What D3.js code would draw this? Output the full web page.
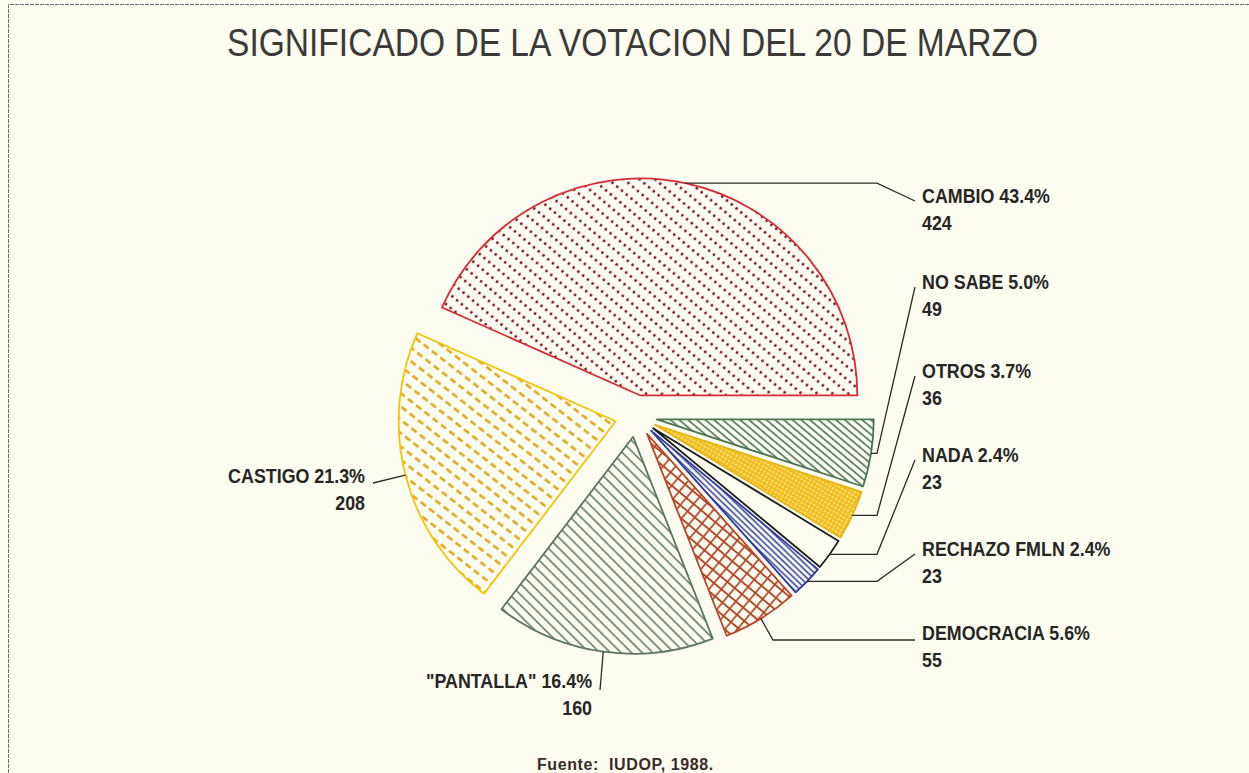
<!DOCTYPE html>
<html><head><meta charset="utf-8">
<script src="https://cdn.jsdelivr.net/npm/d3@7"></script>
<style>
html,body{margin:0;padding:0;background:#fdfcf0;}
svg{display:block;}
</style></head>
<body><svg id="chart" width="1249" height="773"></svg>
<script>
// ---------- data ----------
const categories = ["CAMBIO", "CASTIGO", "\"PANTALLA\"", "DEMOCRACIA", "RECHAZO FMLN", "NADA", "OTROS", "NO SABE"];
const counts = [424, 208, 160, 55, 23, 23, 36, 49];
const percentLabels = ["43.4%", "21.3%", "16.4%", "5.6%", "2.4%", "2.4%", "3.7%", "5.0%"];
const titleText = "SIGNIFICADO DE LA VOTACION DEL 20 DE MARZO";
const sourceText = "Fuente:  IUDOP, 1988.";

// ---------- layout / style (not data) ----------
const W = 1249, H = 773;
const cx = 636, cy = 416, R = 217, explode = 21;
const sliceStyles = [
  {fill: "url(#pDots)",   stroke: "#d82a32"},
  {fill: "url(#pDash)",   stroke: "#f2c40c"},
  {fill: "url(#pGray)",   stroke: "#5b7660"},
  {fill: "url(#pCross)",  stroke: "#b5472b"},
  {fill: "url(#pBlue)",   stroke: "#2c3a98"},
  {fill: "#fdfcf0",       stroke: "#1e1e1e"},
  {fill: "url(#pYellow)", stroke: "#e6b410"},
  {fill: "url(#pGreen)",  stroke: "#4a7452"}
];
const labelLayout = [
  {x: 922, y: 203, anchor: "start", leader: "elbow"},
  {x: 365, y: 483, anchor: "end",   leader: [[373, 483]]},
  {x: 592, y: 688, anchor: "end",   leader: [[600, 690]]},
  {x: 922, y: 640, anchor: "start", leader: [[773, 640], [915, 640]]},
  {x: 922, y: 556, anchor: "start", leader: "elbow"},
  {x: 922, y: 462, anchor: "start", leader: "elbow"},
  {x: 922, y: 378, anchor: "start", leader: "elbow"},
  {x: 922, y: 289, anchor: "start", leader: "elbow"}
];
const elbowX = 877, leaderEndX = 915;
const labelFactor = 0.85;

const svg = d3.select("#chart");
svg.append("rect").attr("width", W).attr("height", H).attr("fill", "#fdfcf0");

// frame
svg.append("path").attr("d", `M8.5,${H} L8.5,4.5 L${W},4.5`)
  .attr("fill", "none").attr("stroke", "#707070").attr("stroke-width", 1)
  .attr("stroke-dasharray", "4,1");

// ---------- patterns ----------
const defs = svg.append("defs");
function pat(id, w, h, rot) {
  return defs.append("pattern").attr("id", id).attr("patternUnits", "userSpaceOnUse")
    .attr("width", w).attr("height", h).attr("patternTransform", `rotate(${rot})`);
}
let p;
p = pat("pDots", 6.2, 10, 40);
p.append("circle").attr("cx", 3.1).attr("cy", 5).attr("r", 1.4).attr("fill", "#7d1628");
p = pat("pDash", 10.5, 10.5, 38);
p.append("line").attr("x1", 1).attr("x2", 7.5).attr("y1", 5.25).attr("y2", 5.25)
  .attr("stroke", "#e3a41a").attr("stroke-width", 2.5);
p = pat("pGray", 10, 7.5, 45);
p.append("line").attr("x1", 0).attr("x2", 10).attr("y1", 3.75).attr("y2", 3.75)
  .attr("stroke", "#5b7660").attr("stroke-width", 1.5);
p = pat("pCross", 9.5, 9.5, 40);
p.append("path").attr("d", "M0,4.75 H9.5 M4.75,0 V9.5")
  .attr("stroke", "#b5472b").attr("stroke-width", 1.7).attr("fill", "none");
p = pat("pBlue", 10, 4.4, 44);
p.append("line").attr("x1", 0).attr("x2", 10).attr("y1", 2.2).attr("y2", 2.2)
  .attr("stroke", "#2c3a98").attr("stroke-width", 1.5);
p = pat("pYellow", 4, 4, 30);
p.append("rect").attr("width", 4).attr("height", 4).attr("fill", "#f4be1c");
p.append("circle").attr("cx", 2).attr("cy", 2).attr("r", 0.9).attr("fill", "#fdf3c8");
p = pat("pGreen", 10, 5.6, 40);
p.append("line").attr("x1", 0).attr("x2", 10).attr("y1", 2.8).attr("y2", 2.8)
  .attr("stroke", "#4a7452").attr("stroke-width", 1.6);

// ---------- pie ----------
const pie = d3.pie().sort(null).value(d => d)
  .startAngle(Math.PI / 2).endAngle(Math.PI / 2 - 2 * Math.PI);
const arcs = pie(counts);
const arcGen = d3.arc().innerRadius(0).outerRadius(R);

const g = svg.append("g").attr("transform", `translate(${cx},${cy})`);
const drawOrder = [0, 1, 2, 3, 4, 6, 7, 5];
drawOrder.forEach(i => {
  const a = arcs[i];
  const m = (a.startAngle + a.endAngle) / 2;
  g.append("path")
    .attr("transform", `translate(${Math.sin(m) * explode},${-Math.cos(m) * explode})`)
    .attr("d", arcGen(a))
    .attr("fill", sliceStyles[i].fill)
    .attr("stroke", sliceStyles[i].stroke)
    .attr("stroke-width", 1.8)
    .attr("stroke-linejoin", "round");
});

// ---------- leaders ----------
arcs.forEach((a, i) => {
  const m = (a.startAngle + a.endAngle) / 2;
  const px = cx + Math.sin(m) * (explode + R);
  const py = cy - Math.cos(m) * (explode + R);
  const L = labelLayout[i];
  let pts = [[px, py]];
  if (L.leader === "elbow") {
    pts.push([elbowX, py], [leaderEndX, L.y - 2]);
  } else {
    pts = pts.concat(L.leader);
  }
  svg.append("path").attr("d", d3.line()(pts))
    .attr("fill", "none").attr("stroke", "#2a2a2a").attr("stroke-width", 1.3);
});

// ---------- labels ----------
function compressedText(parent, str, x, y, anchor, size, factor) {
  const t = parent.append("text").attr("x", 0).attr("y", y)
    .attr("font-family", "'Liberation Sans', Arial, sans-serif")
    .attr("font-weight", "bold").attr("font-size", size)
    .attr("fill", "#262626").text(str);
  const w = t.node().getComputedTextLength() * factor;
  t.attr("textLength", w).attr("lengthAdjust", "spacingAndGlyphs")
   .attr("x", anchor === "end" ? x - w : x);
  return t;
}
arcs.forEach((a, i) => {
  const L = labelLayout[i];
  compressedText(svg, `${categories[i]} ${percentLabels[i]}`, L.x, L.y, L.anchor, 21, labelFactor);
  compressedText(svg, String(counts[i]), L.x, L.y + 27, L.anchor, 21, labelFactor);
});

// ---------- title ----------
svg.append("text").attr("x", 227).attr("y", 56)
  .attr("font-family", "'Liberation Sans', Arial, sans-serif")
  .attr("font-size", 39).attr("fill", "#3a3a3a")
  .attr("textLength", 811).attr("lengthAdjust", "spacingAndGlyphs")
  .text(titleText);

// ---------- source ----------
svg.append("text").attr("x", 537).attr("y", 770)
  .attr("font-family", "'Liberation Sans', Arial, sans-serif")
  .attr("font-weight", "bold").attr("font-size", 16)
  .attr("letter-spacing", 0.6)
  .style("white-space", "pre")
  .attr("fill", "#3a2a2a").text(sourceText);
</script>
</body></html>
